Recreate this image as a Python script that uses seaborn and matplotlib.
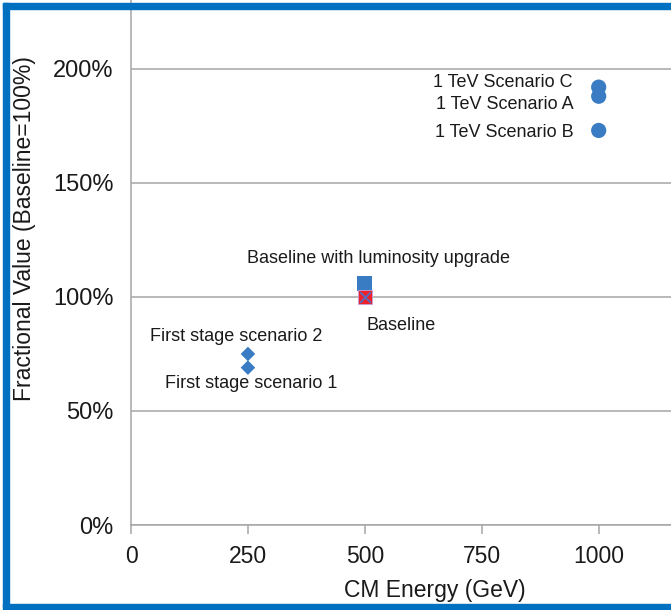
import matplotlib
matplotlib.use("Agg")
import matplotlib.pyplot as plt
import matplotlib.patches as mpatches
import numpy as np
import pandas as pd
import seaborn as sns

# scenario values
labels = ["1 TeV Scenario C", "1 TeV Scenario A", "1 TeV Scenario B",
          "Baseline with luminosity upgrade", "Baseline",
          "First stage scenario 2", "First stage scenario 1"]
energy = [1000, 1000, 1000, 500, 500, 250, 250]
frac = [1.92, 1.88, 1.73, 1.06, 1.00, 0.75, 0.69]
shape = ["1 TeV", "1 TeV", "1 TeV", "Baseline", "Baseline", "First stage", "First stage"]

x_ticks = [0, 250, 500, 750, 1000]
y_ticks = [0, 0.5, 1.0, 1.5, 2.0]
y_tick_labels = ["0%", "50%", "100%", "150%", "200%"]

df = pd.DataFrame({"energy": energy, "frac": frac, "shape": shape, "label": labels})

sns.set_theme(style="white")
plt.rcParams["font.family"] = ["Liberation Sans", "DejaVu Sans"]

blue = "#3a7cc4"
txt = "#1a1a1a"
fig = plt.figure(figsize=(6.71, 6.10), dpi=100)
# plot area runs past the right edge (screenshot is cropped)
ax = fig.add_axes([131 / 671, 85 / 610, 608 / 671, 525 / 610])

main = df[df.label != "Baseline"]
sns.scatterplot(data=main, x="energy", y="frac", style="shape", size="shape",
                markers={"1 TeV": "o", "Baseline": "s", "First stage": "D"},
                sizes={"1 TeV": 120, "Baseline": 120, "First stage": 55},
                color=blue, edgecolor="none", legend=False, ax=ax)
base = df[df.label == "Baseline"]
sns.scatterplot(data=base, x="energy", y="frac", marker="s", color="#f0202a",
                s=110, edgecolor="#c8a0d8", linewidth=0.6, legend=False, ax=ax, zorder=4)
sns.scatterplot(data=base, x="energy", y="frac", marker="x", color="#5a6ab8",
                s=60, linewidth=1.4, legend=False, ax=ax, zorder=5)

offsets = {
    "1 TeV Scenario C": (-18.5, 3.5, "right"),
    "1 TeV Scenario A": (-18, -6, "right"),
    "1 TeV Scenario B": (-18, -1.5, "right"),
    "Baseline with luminosity upgrade": (10, 17.5, "center"),
    "Baseline": (26, -20.5, "center"),
    "First stage scenario 2": (-8.5, 12.5, "center"),
    "First stage scenario 1": (2, -11.5, "center"),
}
for _, r in df.iterrows():
    dx, dy, ha = offsets[r.label]
    ax.annotate(r.label, (r.energy, r.frac), xytext=(dx, dy), textcoords="offset points",
                ha=ha, va="center", fontsize=13, color=txt)

ax.set_xlim(0, 1300)
ax.set_ylim(0, 2.302)
ax.set_xticks(x_ticks)
ax.set_yticks(y_ticks)
ax.set_yticklabels(y_tick_labels)
ax.yaxis.grid(True, color="#a6a6a6", linewidth=1.1)
ax.xaxis.grid(False)
ax.set_axisbelow(True)
for side in ["top", "right"]:
    ax.spines[side].set_visible(False)
for side in ["left", "bottom"]:
    ax.spines[side].set_color("#a6a6a6")
    ax.spines[side].set_linewidth(1.1)
ax.tick_params(axis="y", direction="inout", length=11.5, width=1.1, color="#a6a6a6",
               labelsize=17, labelcolor=txt, pad=7)
ax.tick_params(axis="x", direction="out", length=6.5, width=1.1, color="#a6a6a6",
               labelsize=16.5, labelcolor=txt, pad=8, bottom=True)
ax.set_xlabel("CM Energy (GeV)", fontsize=16.5, color=txt, labelpad=8)
ax.set_ylabel("Fractional Value (Baseline=100%)", fontsize=16.5, color=txt)
ax.yaxis.set_label_coords(-95 / 608, 0.565)

# blue frame of the screenshot
frame = "#0070c0"
W, H = 671, 610
for (x0, y0, w, h) in [(3, 3, 668, 6), (3, 3, 6, 604), (3, 604, 668, 6)]:
    fig.patches.append(mpatches.Rectangle((x0 / W, 1 - (y0 + h) / H), w / W, h / H,
                                          transform=fig.transFigure, color=frame, zorder=10))

fig.savefig("out.png", dpi=100)
